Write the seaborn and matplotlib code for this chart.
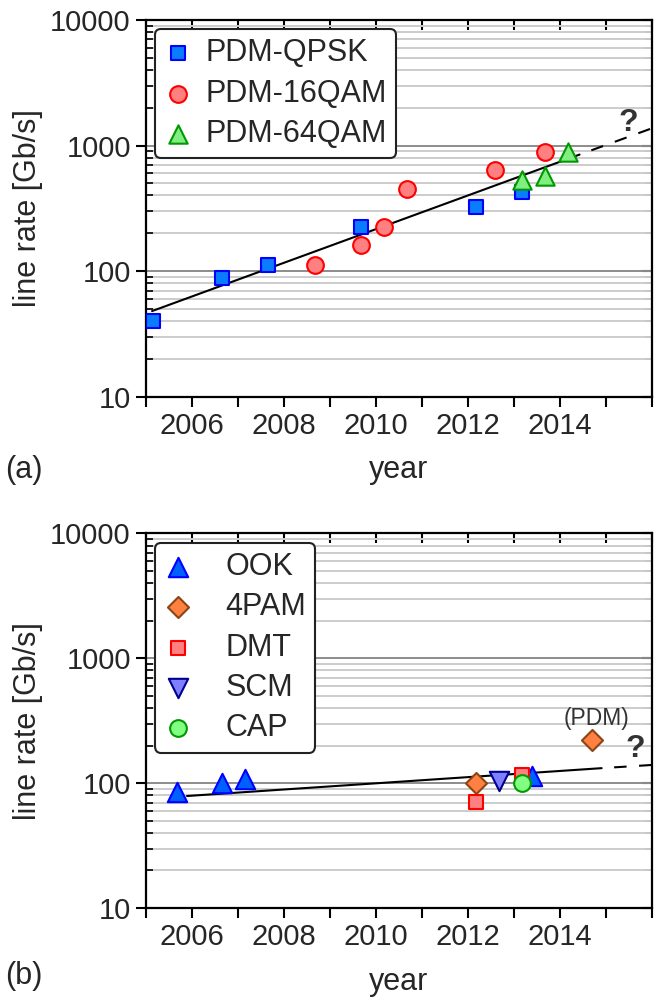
import matplotlib
matplotlib.use("Agg")
import matplotlib.pyplot as plt
import matplotlib.ticker as mticker
import seaborn as sns

# (a) coherent formats
qpsk_year = [2005.15, 2006.65, 2007.65, 2009.67, 2012.17, 2013.17]
qpsk_rate = [40, 88, 112, 225, 325, 428]
qam16_year = [2008.67, 2009.67, 2010.17, 2010.67, 2012.6, 2013.67]
qam16_rate = [112, 161, 225, 453, 643, 880]
qam64_year = [2013.17, 2013.67, 2014.17]
qam64_rate = [535, 575, 895]
trend_a_year = [2005.13, 2014.43]
trend_a_rate = [48, 847]
ext_a_year = [2014.43, 2016.0]
ext_a_rate = [847, 1370]

# (b) direct detection formats
ook_year = [2005.67, 2006.65, 2007.15, 2013.4]
ook_rate = [85, 100, 108, 115]
pam4_year = [2012.17, 2014.7]
pam4_rate = [100, 220]
dmt_year = [2012.17, 2013.17]
dmt_rate = [71, 116]
scm_year = [2012.67]
scm_rate = [104]
cap_year = [2013.17]
cap_rate = [100]
trend_b_year = [2005.89, 2014.91]
trend_b_rate = [79, 132]
ext_b_year = [2014.91, 2016.0]
ext_b_rate = [132, 140]

year_ticks = list(range(2005, 2017))
year_labels = ['', '2006', '', '2008', '', '2010', '', '2012', '', '2014', '', '']
rate_ticks = [10, 100, 1000, 10000]

sns.set_theme(style="ticks")
plt.rcParams['font.family'] = ['Liberation Sans', 'DejaVu Sans']
plt.rcParams['text.color'] = '#262626'
plt.rcParams['axes.labelcolor'] = '#262626'
plt.rcParams['xtick.color'] = 'black'
plt.rcParams['ytick.color'] = 'black'
plt.rcParams['xtick.labelcolor'] = '#262626'
plt.rcParams['ytick.labelcolor'] = '#262626'

FS_TICK = 21
FS_LAB = 22
FS_LEG = 22

fig = plt.figure(figsize=(6.61, 9.99), dpi=100)
ax_a = fig.add_axes([0.221, 0.603, 0.765, 0.377])
ax_b = fig.add_axes([0.221, 0.091, 0.765, 0.375])


def style_axis(ax):
    ax.set_yscale('log')
    ax.set_xlim(2005, 2016)
    ax.set_ylim(10, 10000)
    ax.set_xticks(year_ticks)
    ax.set_xticklabels(year_labels)
    ax.yaxis.set_major_locator(mticker.FixedLocator(rate_ticks))
    ax.yaxis.set_major_formatter(mticker.FuncFormatter(lambda v, p: f'{v:g}'))
    ax.yaxis.set_minor_locator(mticker.LogLocator(base=10, subs=range(2, 10)))
    ax.yaxis.set_minor_formatter(mticker.NullFormatter())
    ax.tick_params(which='major', direction='out', length=7, width=1.5,
                   labelsize=FS_TICK, pad=4)
    ax.tick_params(which='minor', direction='in', length=5, width=1.2)
    ax.grid(False)
    ax.grid(which='major', axis='y', color='#8c8c8c', lw=1.4)
    ax.grid(which='minor', axis='y', color='#cccccc', lw=1.4)
    ax.set_axisbelow(True)
    for s in ax.spines.values():
        s.set_linewidth(1.6)
        s.set_color('black')
    top = ax.secondary_xaxis('top')
    top.set_xticks(year_ticks)
    top.tick_params(direction='in', length=7, width=1.5, labeltop=False)
    right = ax.secondary_yaxis('right')
    right.yaxis.set_major_locator(mticker.FixedLocator(rate_ticks))
    right.yaxis.set_minor_locator(mticker.LogLocator(base=10, subs=range(2, 10)))
    right.tick_params(which='major', direction='in', length=7, width=1.5, labelright=False)
    right.tick_params(which='minor', direction='in', length=5, width=1.2, labelright=False)
    ax.set_xlabel('year', fontsize=FS_LAB, labelpad=11)
    ax.set_ylabel('line rate [Gb/s]', fontsize=FS_LAB, labelpad=5)


def style_legend(ax, textpad):
    leg = ax.legend(loc='upper left', fontsize=FS_LEG, frameon=True, fancybox=True,
                    borderaxespad=0.3, labelspacing=0.34, handletextpad=textpad,
                    handlelength=0.9, borderpad=0.3)
    leg.get_frame().set_edgecolor('#222222')
    leg.get_frame().set_linewidth(1.5)
    leg.get_frame().set_alpha(1)


style_axis(ax_a)
style_axis(ax_b)

# panel (a)
sns.lineplot(x=trend_a_year, y=trend_a_rate, ax=ax_a, color='black', lw=1.5, zorder=2)
sns.lineplot(x=ext_a_year, y=ext_a_rate, ax=ax_a, color='black', lw=1.5,
             linestyle=(6, (6, 6)), zorder=2)
sns.scatterplot(x=qpsk_year, y=qpsk_rate, ax=ax_a, marker='s', s=115,
                color='#0a7cff', edgecolor='#0000ff', linewidth=1.5,
                label='PDM-QPSK', zorder=3)
sns.scatterplot(x=qam16_year, y=qam16_rate, ax=ax_a, marker='o', s=145,
                color='#ff8080', edgecolor='#ff0000', linewidth=1.5,
                label='PDM-16QAM', zorder=3)
sns.scatterplot(x=qam64_year, y=qam64_rate, ax=ax_a, marker='^', s=175,
                color='#80ee80', edgecolor='#009900', linewidth=1.5,
                label='PDM-64QAM', zorder=3)
ax_a.text(2015.48, 1500, '?', fontsize=23, fontweight='bold', ha='center', va='center',
          color='#333333')
style_legend(ax_a, 0.45)

# panel (b)
sns.lineplot(x=trend_b_year, y=trend_b_rate, ax=ax_b, color='black', lw=1.5, zorder=2)
sns.lineplot(x=ext_b_year, y=ext_b_rate, ax=ax_b, color='black', lw=1.5,
             linestyle=(6, (6, 6)), zorder=2)
sns.scatterplot(x=ook_year, y=ook_rate, ax=ax_b, marker='^', s=195,
                color='#0060ff', edgecolor='#0000ff', linewidth=1.5,
                label='OOK', zorder=3)
sns.scatterplot(x=pam4_year, y=pam4_rate, ax=ax_b, marker='D', s=115,
                color='#ff8040', edgecolor='#8b4513', linewidth=1.5,
                label='4PAM', zorder=3)
sns.scatterplot(x=dmt_year, y=dmt_rate, ax=ax_b, marker='s', s=115,
                color='#ff8080', edgecolor='#ff0000', linewidth=1.5,
                label='DMT', zorder=3)
sns.scatterplot(x=scm_year, y=scm_rate, ax=ax_b, marker='v', s=195,
                color='#8080ff', edgecolor='#000090', linewidth=1.5,
                label='SCM', zorder=3)
sns.scatterplot(x=cap_year, y=cap_rate, ax=ax_b, marker='o', s=145,
                color='#80ff80', edgecolor='#009900', linewidth=1.5,
                label='CAP', zorder=3)
ax_b.text(2014.8, 331, '(PDM)', fontsize=16.5, ha='center', va='center', color='#333333')
ax_b.text(2015.65, 187, '?', fontsize=23, fontweight='bold', ha='center', va='center',
          color='#333333')
style_legend(ax_b, 1.1)

fig.text(0.008, 0.530, '(a)', fontsize=FS_LAB, ha='left', va='center')
fig.text(0.008, 0.023, '(b)', fontsize=FS_LAB, ha='left', va='center')

fig.savefig('out.png', dpi=100)
